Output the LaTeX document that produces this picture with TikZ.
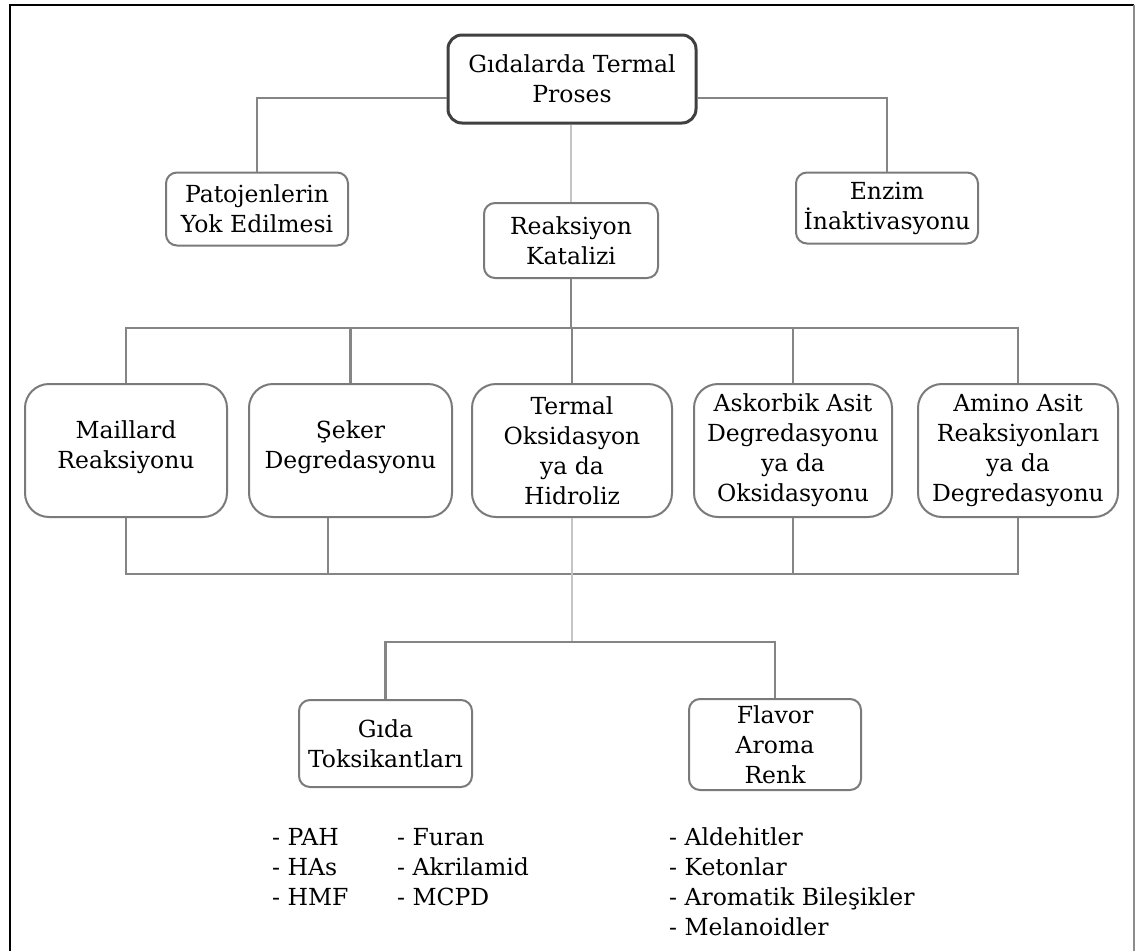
\documentclass[tikz,border=0pt]{standalone}
\usepackage{fontspec}
\setmainfont{DejaVu Serif}
\definecolor{lineg}{HTML}{858585}
\definecolor{lightg}{HTML}{C4C4C4}
\definecolor{boxg}{HTML}{7A7A7A}
\tikzset{
  txt/.style={font=\fontsize{23.5}{30}\selectfont, align=center, inner sep=0pt},
  smallbox/.style={txt, draw=boxg, line width=2pt, rounded corners=11pt, fill=white},
  rowbox/.style={txt, draw=boxg, line width=2pt, rounded corners=24pt, fill=white, minimum width=200pt, minimum height=133pt},
  rootbox/.style={txt, draw=black!75, line width=3pt, rounded corners=14pt, fill=white},
  conn/.style={draw=lineg, line width=2.5pt},
  lconn/.style={draw=lightg, line width=2pt},
  listtxt/.style={font=\fontsize{23.5}{30}\selectfont, align=left, inner sep=0pt, anchor=west}
}
\begin{document}
\begin{tikzpicture}[x=1pt,y=-1pt]
\useasboundingbox (0,0) rectangle (1136,951);
% frame
\draw[black, line width=2.5pt] (10,951) -- (10,5) -- (1134,5);
\draw[black!45, line width=1.5pt] (1134,5) -- (1134,951);

% level coordinates
\coordinate (h1) at (0,98);
\coordinate (b1) at (0,328);
\coordinate (b2) at (0,574);
\coordinate (h3) at (0,642);

% nodes
\node[rootbox, minimum width=248pt, minimum height=88pt] (top) at (572,79) {Gıdalarda Termal\\Proses};
\node[smallbox, minimum width=182pt, minimum height=73pt] (pato) at (257,209) {Patojenlerin\\Yok Edilmesi};
\node[smallbox, minimum width=182pt, minimum height=71pt] (enzim) at (887,208) {Enzim\\İnaktivasyonu};
\node[smallbox, minimum width=174pt, minimum height=75pt] (reak) at (571,240.5) {Reaksiyon\\Katalizi};

\node[rowbox, minimum width=202pt] (mail) at (126,450.5) {Maillard\\Reaksiyonu\\[-18pt]};
\node[rowbox, minimum width=203pt] (seker) at (350.5,450.5) {Şeker\\Degredasyonu\\[-18pt]};
\node[rowbox] (termal) at (572,450.5) {Termal\\Oksidasyon\\ya da\\Hidroliz};
\node[rowbox, minimum width=198pt] (askor) at (793,450.5) {Askorbik Asit\\Degredasyonu\\ya da\\Oksidasyonu};
\node[rowbox] (amino) at (1018,450.5) {Amino Asit\\Reaksiyonları\\ya da\\Degredasyonu};

\node[smallbox, minimum width=173pt, minimum height=87pt] (gida) at (385.5,743.5) {Gıda\\Toksikantları};
\node[smallbox, minimum width=172pt, minimum height=91pt] (flavor) at (775,744.5) {Flavor\\Aroma\\Renk};

\node[listtxt] (l1) at (272,867) {- PAH\\- HAs\\- HMF};
\node[listtxt] (l2) at (397,867) {- Furan\\- Akrilamid\\- MCPD};
\node[listtxt] (l3) at (669,882) {- Aldehitler\\- Ketonlar\\- Aromatik Bileşikler\\- Melanoidler};

% connectors
\draw[conn] (top.west |- h1) -| (pato.north);
\draw[conn] (top.east |- h1) -| (enzim.north);
\draw[lconn] (reak.north |- top.south) -- (reak.north);

\draw[conn] (reak.south) -- (reak.south |- b1);
\draw[conn] (mail.north) -- (mail.north |- b1) -- (amino.north |- b1) -- (amino.north);
\draw[conn] (seker.north) -- (seker.north |- b1);
\draw[conn] (termal.north) -- (termal.north |- b1);
\draw[conn] (askor.north) -- (askor.north |- b1);

\draw[conn] (mail.south) -- (mail.south |- b2) -- (amino.south |- b2) -- (amino.south);
\draw[conn] ([xshift=-22.5pt]seker.south) -- ([xshift=-22.5pt]seker.south |- b2);
\draw[conn] (askor.south) -- (askor.south |- b2);
\draw[lconn] (termal.south) -- (termal.south |- h3);

\draw[conn] (gida.north) -- (gida.north |- h3) -- (flavor.north |- h3) -- (flavor.north);
\end{tikzpicture}
\end{document}
